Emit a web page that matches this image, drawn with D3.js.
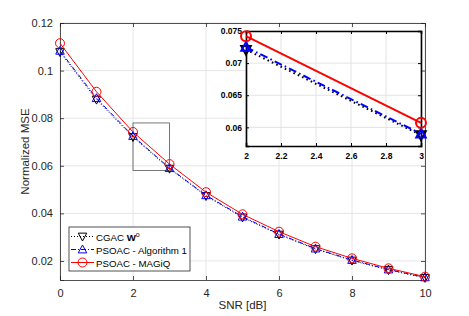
<!DOCTYPE html>
<html>
<head>
<meta charset="utf-8">
<script src="https://cdn.jsdelivr.net/npm/d3@7"></script>
<style>
  body { margin: 0; background: #fff; }
  svg { display: block; font-family: "Liberation Sans", Arial, sans-serif; }
</style>
</head>
<body>
<div id="figure"></div>
<script>
// data
var snr = [0, 1, 2, 3, 4, 5, 6, 7, 8, 9, 10];
var cgac = [0.1078, 0.0878, 0.0721, 0.0588, 0.0473, 0.0383, 0.0311, 0.0250, 0.0202, 0.0162, 0.0129];
var alg1 = [0.1083, 0.0884, 0.0725, 0.0590, 0.0476, 0.0386, 0.0313, 0.0252, 0.0204, 0.0164, 0.0131];
var magiq = [0.1115, 0.0911, 0.0742, 0.0607, 0.0489, 0.0396, 0.0323, 0.0260, 0.0211, 0.0169, 0.0134];
var xTicks = [0, 2, 4, 6, 8, 10];
var yTicks = [0.02, 0.04, 0.06, 0.08, 0.1, 0.12];
var insetXTicks = [2, 2.2, 2.4, 2.6, 2.8, 3];
var insetYTicks = [0.06, 0.065, 0.07, 0.075];
var zoomBox = {x0: 2, x1: 3, y0: 0.058, y1: 0.078};

var series = [
  {name: "CGAC", values: cgac, color: "#000000", dash: "1,2", marker: "down"},
  {name: "PSOAC - Algorithm 1", values: alg1, color: "#0000ff", dash: "5,2,1,2", marker: "up"},
  {name: "PSOAC - MAGiQ", values: magiq, color: "#ff0000", dash: null, marker: "circle"}
];

const W = 469, H = 316;
const svg = d3.select("#figure").append("svg")
  .attr("width", W).attr("height", H);

// marker paths
function markerPath(type, s) {
  if (type === "up") return `M0,${-s} L${s * 0.95},${s * 0.75} L${-s * 0.95},${s * 0.75} Z`;
  if (type === "down") return `M0,${s} L${s * 0.95},${-s * 0.75} L${-s * 0.95},${-s * 0.75} Z`;
  return null;
}
function drawMarker(g, type, cx, cy, color, s, sw) {
  if (type === "circle") {
    g.append("circle").attr("cx", cx).attr("cy", cy).attr("r", s)
      .attr("fill", "none").attr("stroke", color).attr("stroke-width", sw);
  } else {
    g.append("path").attr("d", markerPath(type, s))
      .attr("transform", `translate(${cx},${cy})`)
      .attr("fill", "none").attr("stroke", color).attr("stroke-width", sw);
  }
}

// ---------------- main axes ----------------
const m = {left: 60, right: 425, top: 23, bottom: 280};
const x = d3.scaleLinear().domain([0, 10]).range([m.left, m.right]);
const y = d3.scaleLinear().domain([0.012, 0.12]).range([m.bottom, m.top]);

svg.append("rect").attr("x", m.left).attr("y", m.top)
  .attr("width", m.right - m.left).attr("height", m.bottom - m.top).attr("fill", "#fff");

// grid
const grid = svg.append("g").attr("stroke", "#e6e6e6").attr("stroke-width", 1);
xTicks.forEach(t => grid.append("line").attr("x1", x(t)).attr("x2", x(t)).attr("y1", m.top).attr("y2", m.bottom));
yTicks.forEach(t => grid.append("line").attr("y1", y(t)).attr("y2", y(t)).attr("x1", m.left).attr("x2", m.right));

// axes
const xAxis = d3.axisBottom(x).tickValues(xTicks).tickSize(-4).tickPadding(9).tickFormat(d3.format("d"));
const yAxis = d3.axisLeft(y).tickValues(yTicks).tickSize(-4).tickPadding(7).tickFormat(d => d === 0.1 ? "0.1" : d3.format(".2f")(d));
svg.append("g").attr("transform", `translate(0,${m.bottom})`).call(xAxis).call(styleAxis, 11, "normal", "#262626");
svg.append("g").attr("transform", `translate(${m.left},0)`).call(yAxis).call(styleAxis, 11, "normal", "#262626");
svg.append("g").attr("transform", `translate(0,${m.top})`)
  .call(d3.axisTop(x).tickValues(xTicks).tickSize(-4).tickFormat(""))
  .call(styleAxis, 11, "normal", "#262626");
svg.append("g").attr("transform", `translate(${m.right},0)`)
  .call(d3.axisRight(y).tickValues(yTicks).tickSize(-4).tickFormat(""))
  .call(styleAxis, 11, "normal", "#262626");

function styleAxis(g, fs, fw, col) {
  g.select(".domain").attr("stroke", col).attr("stroke-width", 0.8);
  g.selectAll(".tick line").attr("stroke", col).attr("stroke-width", 0.8);
  g.selectAll(".tick text").attr("fill", col).style("font-size", fs + "px")
    .style("font-weight", fw).style("font-family", "Liberation Sans, Arial, sans-serif");
}

// zoom rectangle
svg.append("rect")
  .attr("x", x(zoomBox.x0)).attr("y", y(zoomBox.y1))
  .attr("width", x(zoomBox.x1) - x(zoomBox.x0)).attr("height", y(zoomBox.y0) - y(zoomBox.y1))
  .attr("fill", "none").attr("stroke", "#555").attr("stroke-width", 0.8);

// lines and markers
const line = d3.line().x((d, i) => x(snr[i])).y(d => y(d));
series.forEach(s => {
  svg.append("path").datum(s.values).attr("d", line)
    .attr("fill", "none").attr("stroke", s.color).attr("stroke-width", 1)
    .attr("stroke-dasharray", s.dash);
  const g = svg.append("g");
  s.values.forEach((v, i) => drawMarker(g, s.marker, x(snr[i]), y(v), s.color, 4.5, 1));
});

// axis labels
svg.append("text").attr("x", (m.left + m.right) / 2).attr("y", 309)
  .attr("text-anchor", "middle").attr("fill", "#262626").style("font-size", "11.5px")
  .text("SNR [dB]");
svg.append("text").attr("transform", `translate(29,${(m.top + m.bottom) / 2}) rotate(-90)`)
  .attr("text-anchor", "middle").attr("fill", "#262626").style("font-size", "11.5px")
  .text("Normalized MSE");

// legend
const lg = {x: 69, y: 227, w: 121, h: 44};
svg.append("rect").attr("x", lg.x).attr("y", lg.y).attr("width", lg.w).attr("height", lg.h)
  .attr("fill", "#fff").attr("stroke", "#262626").attr("stroke-width", 0.8);
const lrows = [236.5, 249.5, 262.5];
series.forEach((s, i) => {
  const ly = lrows[i];
  svg.append("line").attr("x1", 71).attr("x2", 94).attr("y1", ly).attr("y2", ly)
    .attr("stroke", s.color).attr("stroke-width", 1).attr("stroke-dasharray", s.dash);
  drawMarker(svg, s.marker, 82.5, ly, s.color, 4.5, 1);
  const t = svg.append("text").attr("x", 96).attr("y", ly + 4)
    .attr("fill", "#000").style("font-size", "9.7px");
  if (i === 0) {
    t.append("tspan").text("CGAC  ");
    t.append("tspan").style("font-weight", "bold").text("W");
    t.append("tspan").attr("dy", -4).style("font-size", "7px").text("o");
  } else {
    t.text(s.name);
  }
});

// ---------------- inset ----------------
const im = {left: 246, right: 421, top: 31, bottom: 146};
const ix = d3.scaleLinear().domain([2, 3]).range([im.left, im.right]);
const iy = d3.scaleLinear().domain([0.0571, 0.075]).range([im.bottom, im.top]);

svg.append("rect").attr("x", im.left).attr("y", im.top)
  .attr("width", im.right - im.left).attr("height", im.bottom - im.top).attr("fill", "#fff");
const igrid = svg.append("g").attr("stroke", "#e3e3e3").attr("stroke-width", 1);
insetXTicks.forEach(t => igrid.append("line").attr("x1", ix(t)).attr("x2", ix(t)).attr("y1", im.top).attr("y2", im.bottom));
insetYTicks.forEach(t => igrid.append("line").attr("y1", iy(t)).attr("y2", iy(t)).attr("x1", im.left).attr("x2", im.right));

svg.append("g").attr("transform", `translate(0,${im.bottom})`)
  .call(d3.axisBottom(ix).tickValues(insetXTicks).tickSize(-3).tickPadding(7).tickFormat(d => d3.format("~g")(d)))
  .call(styleInset);
svg.append("g").attr("transform", `translate(${im.left},0)`)
  .call(d3.axisLeft(iy).tickValues(insetYTicks).tickSize(-3).tickPadding(4).tickFormat(d => d3.format("~g")(d)))
  .call(styleInset);
svg.append("g").attr("transform", `translate(0,${im.top})`)
  .call(d3.axisTop(ix).tickValues(insetXTicks).tickSize(-3).tickFormat(""))
  .call(styleInset);
svg.append("g").attr("transform", `translate(${im.right},0)`)
  .call(d3.axisRight(iy).tickValues(insetYTicks).tickSize(-3).tickFormat(""))
  .call(styleInset);

function styleInset(g) {
  g.select(".domain").attr("stroke", "#000").attr("stroke-width", 1.6);
  g.selectAll(".tick line").attr("stroke", "#000").attr("stroke-width", 1);
  g.selectAll(".tick text").attr("fill", "#000").style("font-size", "8.5px")
    .style("font-weight", "bold").style("font-family", "Liberation Sans, Arial, sans-serif");
}

const iIdx = [2, 3];
series.forEach(s => {
  svg.append("path").datum(iIdx)
    .attr("d", d3.line().x(i => ix(snr[i])).y(i => iy(s.values[i])))
    .attr("fill", "none").attr("stroke", s.color).attr("stroke-width", 2)
    .attr("stroke-dasharray", s.dash ? s.dash.split(",").map(v => v * 1.6).join(",") : null);
  const g = svg.append("g");
  iIdx.forEach(i => drawMarker(g, s.marker, ix(snr[i]), iy(s.values[i]), s.color, 5, 2));
});
</script>
</body>
</html>
